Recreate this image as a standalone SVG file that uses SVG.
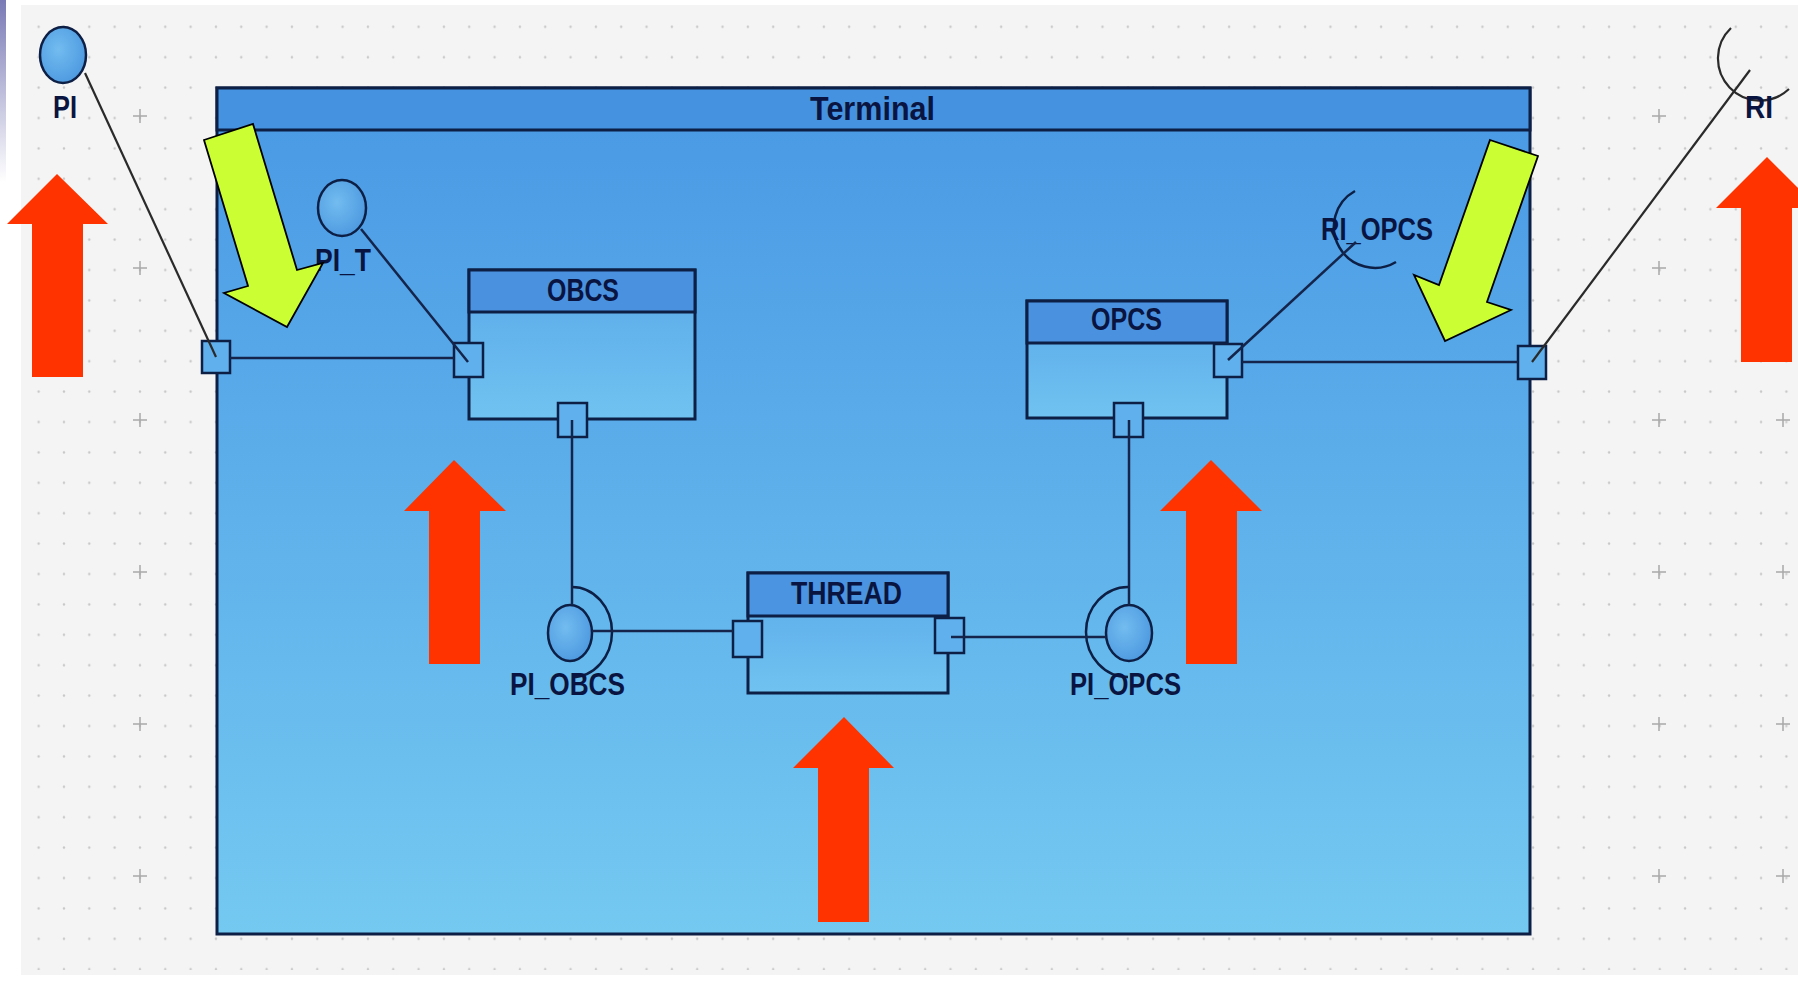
<svg xmlns="http://www.w3.org/2000/svg" width="1798" height="991" viewBox="0 0 1798 991">
<style>
.lbl{font-family:"Liberation Sans Narrow","Liberation Sans",Arial,sans-serif;font-weight:bold;font-size:31px;fill:#0a1440}
.frame{stroke:#0d1f45;stroke-width:3}
.port{fill:#5fb0ec;stroke:#0d1f45;stroke-width:2.5}
.iface{fill:url(#ifg);stroke:#0d1f45;stroke-width:2.5}
.sock{fill:none;stroke:#0d1f45;stroke-width:2.5}
.con{fill:none;stroke:#14244a;stroke-width:2.5}
.conout{fill:none;stroke:#2a2a2a;stroke-width:2.2}
.red{fill:#ff3300}
.yel{fill:#ccff33;stroke:#000;stroke-width:1.8;stroke-linejoin:miter}
.plus{stroke:#a8a8a8;stroke-width:1.5}
</style>
<defs>
<linearGradient id="strip" x1="0" y1="0" x2="0" y2="1"><stop offset="0" stop-color="#7a7ab6"/><stop offset="1" stop-color="#ffffff"/></linearGradient>
<linearGradient id="tbody" x1="0" y1="0" x2="0" y2="1"><stop offset="0" stop-color="#4898e4"/><stop offset="1" stop-color="#74c9f1"/></linearGradient>
<linearGradient id="sbody" x1="0" y1="0" x2="0" y2="1"><stop offset="0" stop-color="#5aa8ea"/><stop offset="1" stop-color="#70c3f0"/></linearGradient>
<radialGradient id="ifg" cx="0.4" cy="0.4" r="0.7"><stop offset="0" stop-color="#72bcf0"/><stop offset="1" stop-color="#4a96de"/></radialGradient>
<pattern id="dots" patternUnits="userSpaceOnUse" x="0.63" y="11.6" width="25.33" height="30.4"><circle cx="12.67" cy="15.2" r="1.2" fill="#c6c6c6"/></pattern>
</defs>
<rect width="1798" height="991" fill="#ffffff"/>
<rect x="0" y="0" width="6" height="182" fill="url(#strip)"/>
<rect x="21" y="5" width="1777" height="970" fill="#f4f4f4"/>
<rect x="21" y="5" width="1777" height="965" fill="url(#dots)"/>
<g id="grid-plus">
<path class="plus" d="M133 116h14M140 109v14M133 268h14M140 261v14M133 420h14M140 413v14M133 572h14M140 565v14M133 724h14M140 717v14M133 876h14M140 869v14M1652 116h14M1659 109v14M1652 268h14M1659 261v14M1652 420h14M1659 413v14M1652 572h14M1659 565v14M1652 724h14M1659 717v14M1652 876h14M1659 869v14M1776 420h14M1783 413v14M1776 572h14M1783 565v14M1776 724h14M1783 717v14M1776 876h14M1783 869v14"/>
</g>
<g id="terminal">
<rect x="217" y="88" width="1313" height="846" fill="url(#tbody)" class="frame"/>
<rect x="217" y="88" width="1313" height="42" fill="#4592e0" class="frame"/>
<text class="lbl" x="810" y="120" style="font-size:33px" textLength="125" lengthAdjust="spacingAndGlyphs">Terminal</text>
<rect class="port" x="202" y="341" width="28" height="32"/>
<rect class="port" x="1518" y="346" width="28" height="33"/>
</g>
<g id="PI">
<ellipse class="iface" cx="63" cy="55" rx="23" ry="28"/>
<text class="lbl" x="53" y="118" textLength="24" lengthAdjust="spacingAndGlyphs">PI</text>
</g>
<g id="RI">
<path class="conout" d="M1731 28A42 42 0 0 0 1789 89"/>
<text class="lbl" x="1745" y="118" textLength="28" lengthAdjust="spacingAndGlyphs">RI</text>
</g>
<g id="PI_T">
<ellipse class="iface" cx="342" cy="208" rx="24" ry="28"/>
<text class="lbl" x="315" y="271" textLength="56" lengthAdjust="spacingAndGlyphs">PI_T</text>
</g>
<g id="OBCS">
<rect x="469" y="270" width="226" height="149" fill="url(#sbody)" class="frame"/>
<rect x="469" y="270" width="226" height="42" fill="#4a92e0" class="frame"/>
<text class="lbl" x="547" y="301" textLength="72" lengthAdjust="spacingAndGlyphs">OBCS</text>
<rect class="port" x="454" y="343" width="29" height="34"/>
<rect class="port" x="558" y="403" width="29" height="34"/>
</g>
<g id="OPCS">
<rect x="1027" y="301" width="200" height="117" fill="url(#sbody)" class="frame"/>
<rect x="1027" y="301" width="200" height="42" fill="#4a92e0" class="frame"/>
<text class="lbl" x="1091" y="330" textLength="71" lengthAdjust="spacingAndGlyphs">OPCS</text>
<rect class="port" x="1214" y="344" width="28" height="33"/>
<rect class="port" x="1114" y="403" width="29" height="34"/>
</g>
<g id="RI_OPCS">
<path class="sock" d="M1355 191A41 41 0 1 0 1396 262"/>
<text class="lbl" x="1321" y="240" textLength="112" lengthAdjust="spacingAndGlyphs">RI_OPCS</text>
</g>
<g id="THREAD">
<rect x="748" y="573" width="200" height="120" fill="url(#sbody)" class="frame"/>
<rect x="748" y="573" width="200" height="43" fill="#4a94e2" class="frame"/>
<text class="lbl" x="791" y="604" textLength="111" lengthAdjust="spacingAndGlyphs">THREAD</text>
<rect class="port" x="733" y="621" width="29" height="36"/>
<rect class="port" x="935" y="618" width="29" height="35"/>
</g>
<g id="PI_OBCS">
<ellipse class="iface" cx="570" cy="633" rx="22" ry="28"/>
<path class="sock" d="M572 587A40 45 0 0 1 572 677"/>
<text class="lbl" x="510" y="695" textLength="115" lengthAdjust="spacingAndGlyphs">PI_OBCS</text>
</g>
<g id="PI_OPCS">
<ellipse class="iface" cx="1129" cy="633" rx="23" ry="28"/>
<path class="sock" d="M1128 587A42 45 0 0 0 1128 677"/>
<text class="lbl" x="1070" y="695" textLength="111" lengthAdjust="spacingAndGlyphs">PI_OPCS</text>
</g>
<g id="connectors">
<line class="conout" x1="85" y1="73" x2="216" y2="357"/>
<line class="con" x1="230" y1="358" x2="454" y2="358"/>
<line class="con" x1="361" y1="229" x2="468" y2="362"/>
<line class="con" x1="572" y1="420" x2="572" y2="605"/>
<line class="con" x1="592" y1="631" x2="733" y2="631"/>
<line class="con" x1="951" y1="637" x2="1106" y2="637"/>
<line class="con" x1="1129" y1="420" x2="1129" y2="605"/>
<line class="con" x1="1242" y1="362" x2="1518" y2="362"/>
<line class="con" x1="1228" y1="360" x2="1356" y2="242"/>
<line class="conout" x1="1532" y1="362" x2="1750" y2="70"/>
</g>
<g id="annotations">
<polygon class="red" points="57,174 108,224 83,224 83,377 32,377 32,224 7,224"/>
<polygon class="red" points="454,460 506,511 480,511 480,664 429,664 429,511 404,511"/>
<polygon class="red" points="1211,460 1262,511 1237,511 1237,664 1186,664 1186,511 1160,511"/>
<polygon class="red" points="844,717 894,768 869,768 869,922 818,922 818,768 793,768"/>
<polygon class="red" points="1767,157 1818,208 1792,208 1792,362 1741,362 1741,208 1716,208"/>
<polygon class="yel" points="204,140 253,124 297,270 323,263 287,327 224,293 248,286"/>
<polygon class="yel" points="1490,140 1538,156 1487,302 1511,310 1445,341 1414,275 1439,285"/>
</g>
</svg>
